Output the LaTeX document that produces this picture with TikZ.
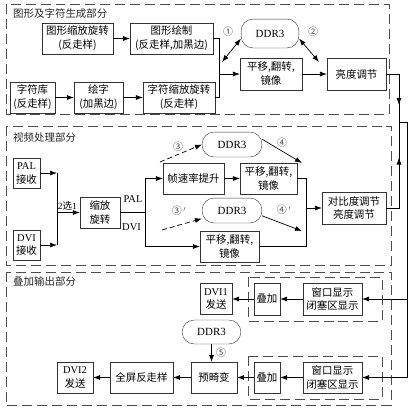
\documentclass[tikz,border=0pt]{standalone}
\usepackage{fontspec}
\setmainfont{Liberation Serif}
\newfontfamily\cjk{Noto Sans CJK SC}
\usetikzlibrary{arrows.meta, decorations.markings}

\begin{document}
\begin{tikzpicture}[x=1bp, y=-1bp,
    midarrow/.style={postaction={decorate,
        decoration={markings, mark=at position #1 with {\arrow{Latex[length=7pt,width=5pt]}}}}}]
\useasboundingbox (0,0) rectangle (412,410);

% dashed frames
\begin{scope}[draw=black!70, line width=0.9pt, dash pattern=on 10pt off 5pt]
    \draw (6,4) rectangle (389,114);
    \draw (6,126) rectangle (391,265);
    \draw (6,272) rectangle (391,405);
    \draw (248,277) rectangle (382,321);
    \draw (248,356) rectangle (382,399);
\end{scope}

\begin{scope}[every node/.style={anchor=west, inner sep=1pt, text=black!85,
              font=\cjk\fontsize{10.5}{13}\selectfont}]
    \node (title1) at (12,14) {图形及字符生成部分};
    \node (title2) at (12,138) {视频处理部分};
    \node (title3) at (12,282) {叠加输出部分};
\end{scope}

\begin{scope}[every node/.style={draw=black!80, align=center, inner sep=1pt,
              minimum height=31, font=\cjk\fontsize{10.5}{14}\selectfont}]
    % graphics and characters
    \node[minimum width=71] (gscale) at (77.5,38.5) {图形缩放旋转\\(反走样)};
    \node[minimum width=83] (gdraw) at (171.5,38.5) {图形绘制\\(反走样,加黑边)};
    \node[minimum width=45] (clib) at (32.5,97.5) {字符库\\(反走样)};
    \node[minimum width=49] (cdraw) at (98.5,97.5) {绘字\\(加黑边)};
    \node[minimum width=72] (cscale) at (179,97.5) {字符缩放旋转\\(反走样)};
    \node[minimum width=62, minimum height=32] (move1) at (271,74) {平移,翻转,\\镜像};
    \node[minimum width=59, minimum height=32] (bright) at (356.5,74) {亮度调节};
    % video
    \node[minimum width=27, minimum height=30] (palin) at (26.5,173) {{\rmfamily PAL}\\接收};
    \node[minimum width=27, minimum height=30] (dviin) at (26.5,245) {{\rmfamily DVI}\\接收};
    \node[minimum width=40] (rot) at (100,212.5) {缩放\\旋转};
    \node[minimum width=61] (fps) at (193.5,178.5) {帧速率提升};
    \node[minimum width=57] (move2) at (268.5,178.5) {平移,翻转,\\镜像};
    \node[minimum width=59] (move3) at (229.5,246.5) {平移,翻转,\\镜像};
    \node[minimum width=64, minimum height=32] (contr) at (354,208) {对比度调节\\亮度调节};
    % overlay output
    \node[minimum width=59, minimum height=32] (win1) at (332.5,299) {窗口显示\\闭塞区显示};
    \node[minimum width=26, minimum height=32] (add1) at (267,299) {叠加};
    \node[minimum width=32] (dvi1) at (216,299) {{\rmfamily DVI1}\\发送};
    \node[minimum width=59] (win2) at (332.5,377.5) {窗口显示\\闭塞区显示};
    \node[minimum width=26] (add2) at (267,377.5) {叠加};
    \node[minimum width=46] (pre) at (214,377.5) {预畸变};
    \node[minimum width=63] (aa) at (141.5,377.5) {全屏反走样};
    \node[minimum width=36] (dvi2) at (75,377.5) {{\rmfamily DVI2}\\发送};
\end{scope}

\begin{scope}[every node/.style={draw=black!80, rounded corners=12bp, inner sep=1pt,
              font=\fontsize{11}{13}\selectfont}]
    \node[minimum width=58, minimum height=29] (ddrA) at (270,33.5) {DDR3};
    \node[minimum width=60, minimum height=25] (ddrB) at (232,144.5) {DDR3};
    \node[minimum width=60, minimum height=25] (ddrC) at (232,210.5) {DDR3};
    \node[minimum width=59, minimum height=24] (ddrD) at (211.5,332) {DDR3};
\end{scope}

\coordinate (j1) at (219,74);
\coordinate (j2) at (399,122);
\coordinate (r1) at (407,122);
\coordinate (j5) at (57,212.5);
\coordinate (j6) at (145,212.5);
\coordinate (j7) at (306,208);
\coordinate (p1) at (222,62);
\coordinate (p2) at (319,62);
\coordinate (p3) at (160,162);
\coordinate (p4) at (302,163);
\coordinate (p5) at (162,230);
\coordinate (p6) at (302,231);

\begin{scope}[>={Latex[length=7pt,width=5pt]},
              every edge/.style={draw=black, line width=0.7pt}, line width=0.7pt]
    \path [->] (gscale) edge (gdraw);
    \path [->] (clib) edge (cdraw);
    \path [->] (cdraw) edge (cscale);
    \draw (gdraw.east) -| (j1);
    \draw (cscale.east) -| (j1);
    \path [->] (j1) edge (move1);
    \path [<->] (p1) edge (ddrA.190);
    \path [<->] (ddrA.350) edge (p2);
    \path [->] (move1) edge (bright);
    \draw [midarrow=0.72] (bright.east) -| (j2);

    \draw [->] (palin.east) -- (palin.east -| j5);
    \draw [->] (dviin.east) -- (dviin.east -| j5);
    \draw (palin.east -| j5) -- (dviin.east -| j5);
    \path [->] (j5) edge node[above, inner sep=2pt, pos=0.45,
        font=\cjk\fontsize{9.5}{11}\selectfont] {{\rmfamily 2}选{\rmfamily 1}} (rot);
    \draw (rot.east) -- (j6);
    \draw [->] (j6) |- (fps.west);
    \draw [->] (j6) |- (move3.west);
    \path [->] (fps) edge (move2);
    \path [->, dash pattern=on 5pt off 3pt] (p3) edge (ddrB.west);
    \path [->] (ddrB.10) edge (p4);
    \path [->, dash pattern=on 5pt off 3pt] (p5) edge (ddrC.195);
    \path [->] (ddrC.350) edge (p6);
    \draw (move2.east) -| (j7);
    \draw (move3.east) -| (j7);
    \path [->] (j7) edge (contr);
    \draw [midarrow=0.64] (contr.east) -| (j2);

    \draw (j2) -- (r1);
    \draw [->] (r1) |- (win2.east);
    \draw [->] (r1 |- win1.east) -- (win1.east);
    \path [->] (win1) edge (add1);
    \path [->] (add1) edge (dvi1);
    \path [->] (win2) edge (add2);
    \path [->] (add2) edge (pre);
    \path [->] (pre) edge (aa);
    \path [->] (aa) edge (dvi2);
    \draw [->] (ddrD.south) -- (ddrD.south |- pre.north);
\end{scope}

\begin{scope}[every node/.style={inner sep=0pt, text=black!75,
              font=\cjk\fontsize{10}{12}\selectfont}]
    \node (n1) at (228,32) {①};
    \node (n2) at (313,32) {②};
    \node (n3) at (178,147) {③};
    \node (n4) at (282,143) {④};
    \node (n3b) at (179,211) {③\,$'$};
    \node (n4b) at (284,210) {④\,$'$};
    \node (n5) at (221,353) {⑤};
\end{scope}

\begin{scope}[every node/.style={inner sep=0pt, font=\fontsize{10.5}{12}\selectfont}]
    \node (lpal) at (133,199) {PAL};
    \node (ldvi) at (131.5,227) {DVI};
\end{scope}
\end{tikzpicture}
\end{document}
